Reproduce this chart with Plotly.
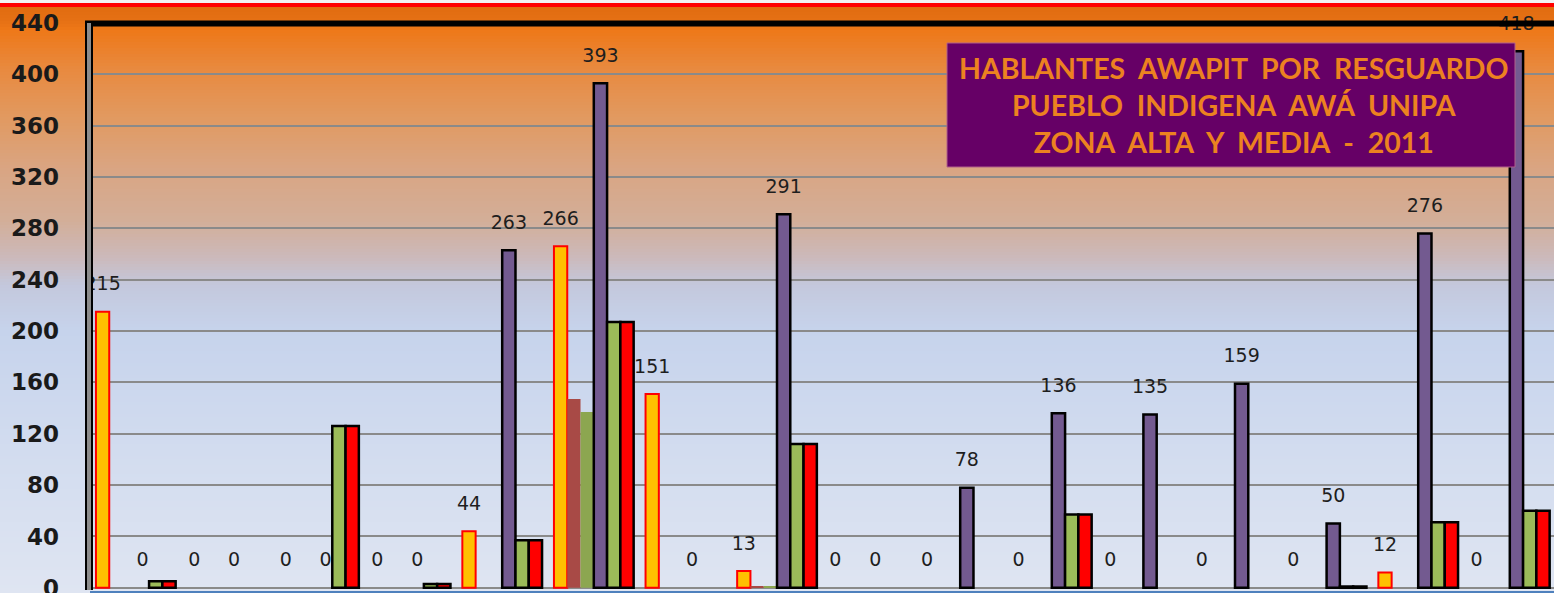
import plotly.graph_objects as go

# categorias (los nombres quedan fuera del recorte)
resguardos = ["R%02d" % i for i in range(1, 17)]

serie_amarilla = [215, 0, 0, 0, 44, 266, 151, 13, 0, 0, 0, 0, 0, 0, 12, 0]
serie_cafe = [0, 0, 0, 0, 0, 147, 0, 1, 0, 0, 0, 0, 0, 0, 0, 0]
serie_oliva = [0, 0, 0, 0, 0, 137, 0, 1, 0, 0, 0, 0, 0, 0, 0, 0]
serie_morada = [0, 0, 0, 0, 263, 393, 0, 291, 0, 78, 136, 135, 159, 50, 276, 418]
serie_verde = [5, 0, 126, 3, 37, 207, 0, 112, 0, 0, 57, 0, 0, 1, 51, 60]
serie_roja = [5, 0, 126, 3, 37, 207, 0, 112, 0, 0, 57, 0, 0, 1, 51, 60]

y_ticks = list(range(0, 441, 40))

titulo = ["HABLANTES  AWAPIT  POR  RESGUARDO",
          "PUEBLO  INDIGENA  AWÁ  UNIPA",
          "ZONA  ALTA  Y  MEDIA  -  2011"]

W, H = 1554, 593
L, R, T, B = 90, 0, 23, 2
PW, PH = W - L - R, H - T - B


def px_x(px):
    return (px - L) / PW


def px_y(py):
    return (H - B - py) / PH


series = [
    ("Serie 1", serie_amarilla, "#FFC000", "#FF0000", 2, True),
    ("Serie 2", serie_cafe, "#A84A46", "#A84A46", 0, False),
    ("Serie 3", serie_oliva, "#8CA650", "#8CA650", 0, False),
    ("Serie 4", serie_morada, "#735A90", "#000000", 2.5, True),
    ("Serie 5", serie_verde, "#9BBB59", "#000000", 2.5, False),
    ("Serie 6", serie_roja, "#FF0000", "#000000", 2.5, False),
]

fig = go.Figure()
for name, vals, color, lcolor, lw, _ in series:
    fig.add_trace(go.Bar(
        x=resguardos, y=vals, name=name,
        marker=dict(color=color,
                    line=dict(color=lcolor, width=[lw if v > 0 else 0 for v in vals])),
        hoverinfo="skip",
    ))

# etiquetas de datos (scatter agrupado igual que las barras)
for name, vals, color, lcolor, lw, show in series:
    fig.add_trace(go.Scatter(
        x=resguardos, y=vals, name=name + " etiqueta",
        mode="markers+text" if show else "markers",
        text=[str(v) for v in vals] if show else None,
        textposition="top center",
        textfont=dict(family="DejaVu Sans", size=19, color="#1E1E1E"),
        marker=dict(size=25, color="rgba(0,0,0,0)"),
        cliponaxis=False, hoverinfo="skip", showlegend=False,
    ))

# fondo degradado
stops = [(3, (0xDF, 0x6A, 0x0E)), (20, (0xE5, 0x70, 0x14)), (30, (0xEE, 0x78, 0x18)),
         (70, (0xE8, 0x8A, 0x40)), (120, (0xE1, 0x9A, 0x62)), (170, (0xD9, 0xA5, 0x83)),
         (220, (0xD3, 0xAE, 0x98)), (255, (0xCC, 0xB8, 0xB8)), (285, (0xC4, 0xC8, 0xDC)),
         (330, (0xC6, 0xD3, 0xEC)), (450, (0xD2, 0xDC, 0xEF)), (593, (0xDF, 0xE5, 0xF2))]


def color_at(py):
    for (a, ca), (b, cb) in zip(stops[:-1], stops[1:]):
        if a <= py <= b:
            t = (py - a) / (b - a)
            c = [round(ca[i] + (cb[i] - ca[i]) * t) for i in range(3)]
            return "rgb(%d,%d,%d)" % tuple(c)
    return "rgb(%d,%d,%d)" % stops[-1][1]


shapes = []
step = 3
for py in range(3, H, step):
    shapes.append(dict(type="rect", xref="paper", yref="paper", layer="below",
                       x0=px_x(0), x1=px_x(W), y0=px_y(min(py + step + 1, H)), y1=px_y(py),
                       fillcolor=color_at(py + step / 2), line=dict(width=0)))
shapes.append(dict(type="rect", xref="paper", yref="paper", layer="below",
                   x0=px_x(0), x1=px_x(W), y0=px_y(3), y1=px_y(0),
                   fillcolor="#F2F2F2", line=dict(width=0)))
# linea roja superior
shapes.append(dict(type="line", xref="paper", yref="paper", layer="above",
                   x0=px_x(0), x1=px_x(W), y0=px_y(5), y1=px_y(5),
                   line=dict(color="#FF0000", width=4)))
# borde superior negro
shapes.append(dict(type="line", xref="paper", yref="paper", layer="above",
                   x0=px_x(85), x1=px_x(W), y0=px_y(23.5), y1=px_y(23.5),
                   line=dict(color="#000000", width=6)))
# eje vertical
shapes.append(dict(type="line", xref="paper", yref="paper", layer="above",
                   x0=px_x(89), x1=px_x(89), y0=px_y(590), y1=px_y(21),
                   line=dict(color="#000000", width=8)))
shapes.append(dict(type="line", xref="paper", yref="paper", layer="above",
                   x0=px_x(89), x1=px_x(89), y0=px_y(590), y1=px_y(23),
                   line=dict(color="#8C8C8C", width=4)))
# cuadro del titulo
shapes.append(dict(type="rect", xref="paper", yref="paper", layer="above",
                   x0=px_x(947), x1=px_x(1515), y0=px_y(167), y1=px_y(43),
                   fillcolor="#660066", line=dict(color="#B0608A", width=1)))

annotations = [dict(xref="paper", yref="paper", x=px_x(1233), y=px_y(105),
                    text="<br>".join(titulo), showarrow=False, align="center",
                    xanchor="center", yanchor="middle",
                    font=dict(family="Lato", size=28.5, color="#EC8220", weight="bold"))]

fig.update_layout(
    width=W, height=H,
    margin=dict(l=L, r=R, t=T, b=B, autoexpand=False),
    paper_bgcolor="rgba(0,0,0,0)",
    plot_bgcolor="rgba(0,0,0,0)",
    barmode="group", bargap=0.13, bargroupgap=0,
    scattermode="group", scattergap=0.13,
    showlegend=False,
    shapes=shapes,
    annotations=annotations,
    xaxis=dict(range=[-0.5, -0.5 + PW / 91.6], showgrid=False, showticklabels=False,
               showline=True, linecolor="#4F81BD", linewidth=2, automargin=False,
               ticks="outside", tickson="boundaries", ticklen=6, tickcolor="#4F81BD",
               tickwidth=2),
    yaxis=dict(range=[-2.5, 440], tickvals=y_ticks, showgrid=True, gridcolor="#8A8A8A",
               gridwidth=2, zeroline=True, zerolinecolor="#8A8A8A", zerolinewidth=2,
               showline=False, ticklabelstandoff=30, automargin=False,
               ticklabeloverflow="allow",
               tickfont=dict(family="DejaVu Sans", size=23, color="#1A1A1A", weight="bold")),
)

fig.write_html("out.html", config={"displayModeBar": False},
               post_script="document.body.style.margin='0';")
